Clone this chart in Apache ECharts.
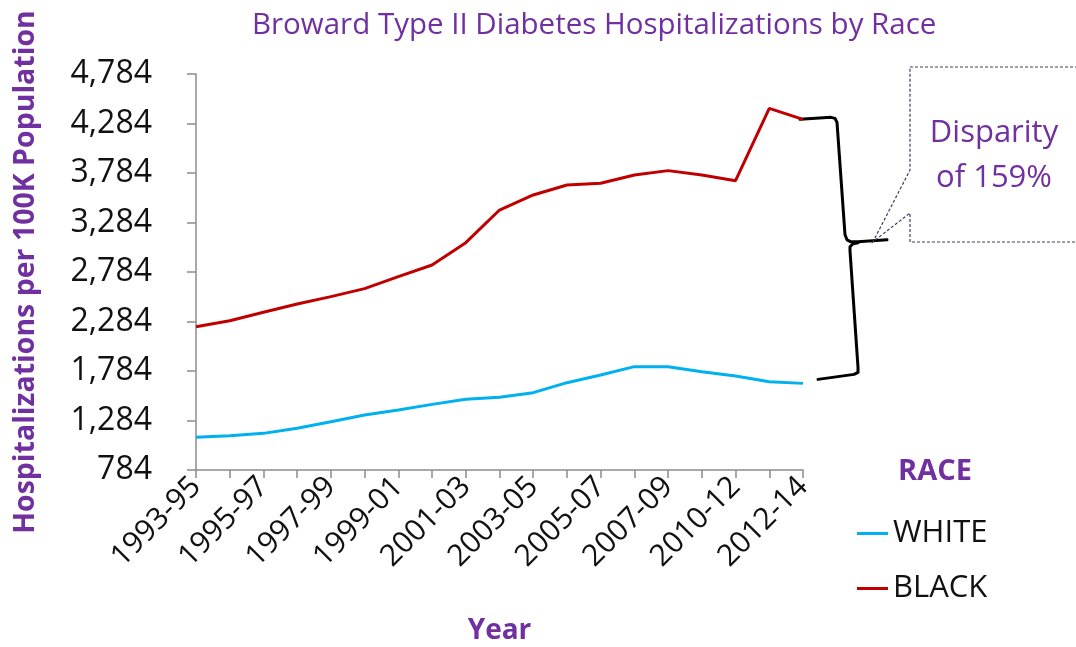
<!DOCTYPE html>
<html><head><meta charset="utf-8">
<script src="https://cdn.jsdelivr.net/npm/echarts@6/dist/echarts.min.js"></script>
<style>html,body{margin:0;padding:0;background:#fff}#c{width:1076px;height:647px}</style>
</head><body><div id="c"></div>
<script>
const categories = ['1993-95','1994-96','1995-97','1996-98','1997-99','1998-00','1999-01','2000-02','2001-03','2002-04','2003-05','2004-06','2005-07','2006-08','2007-09','2008-10','2010-12','2011-13','2012-14'];
const white = [1114,1131,1154,1205,1272,1340,1390,1447,1498,1518,1565,1666,1744,1828,1828,1777,1733,1676,1659];
const black = [2232,2292,2377,2461,2535,2616,2737,2855,3080,3410,3562,3663,3680,3764,3808,3764,3706,4437,4326];
const yTicks = {min: 784, max: 4784, interval: 500};
const purple = '#7030A0';
const FONT = 'Open Sans';

const chart = echarts.init(document.getElementById('c'));
chart.setOption({
  animation: false,
  title: [
    {text: 'Broward Type II Diabetes Hospitalizations by Race', left: 247, top: 6,
     textStyle: {color: purple, fontFamily: FONT, fontWeight: 'normal', fontSize: 29.5}},
    {text: 'RACE', left: 893, top: 452,
     textStyle: {color: purple, fontFamily: FONT, fontWeight: 'bold', fontSize: 29}}
  ],
  grid: {left: 196, right: 273, top: 74, bottom: 177, outerBoundsMode: 'none', containLabel: false},
  legend: {
    orient: 'vertical', left: 852, top: 513, itemWidth: 31, itemHeight: 3, itemGap: 24,
    textStyle: {fontFamily: FONT, fontSize: 31, color: '#111'},
    data: [{name: 'WHITE', icon: 'rect'}, {name: 'BLACK', icon: 'rect'}]
  },
  xAxis: {
    type: 'category', data: categories, boundaryGap: false,
    name: 'Year', nameLocation: 'middle', nameGap: 147,
    nameTextStyle: {color: purple, fontFamily: FONT, fontWeight: 'bold', fontSize: 28},
    axisLine: {lineStyle: {color: '#8c8c8c', width: 1.5}},
    axisTick: {interval: 0, length: 8, lineStyle: {color: '#8c8c8c', width: 1.5}},
    axisLabel: {interval: 1, rotate: 45, margin: 12, color: '#111', fontFamily: FONT, fontSize: 30}
  },
  yAxis: {
    type: 'value', min: yTicks.min, max: yTicks.max, interval: yTicks.interval,
    name: 'Hospitalizations per 100K Population', nameLocation: 'middle', nameGap: 156, nameRotate: 90,
    nameTextStyle: {color: purple, fontFamily: FONT, fontWeight: 'bold', fontSize: 28.5},
    axisLine: {show: true, lineStyle: {color: '#8c8c8c', width: 1.5}},
    axisTick: {show: true, length: 9, lineStyle: {color: '#8c8c8c', width: 1.5}},
    splitLine: {show: false},
    axisLabel: {margin: 44, color: '#111', fontFamily: FONT, fontSize: 32,
      formatter: v => Math.round(v).toLocaleString('en-US')}
  },
  series: [
    {name: 'WHITE', type: 'line', data: white, showSymbol: false, lineStyle: {color: '#00B0F0', width: 3}, itemStyle: {color: '#00B0F0'}},
    {name: 'BLACK', type: 'line', data: black, showSymbol: false, lineStyle: {color: '#C00000', width: 3}, itemStyle: {color: '#C00000'}}
  ]
});

// Brace and callout anchored to the last data points
const n = categories.length - 1;
const pr = chart.convertToPixel({gridIndex: 0}, [n, black[n]]);
const pb = chart.convertToPixel({gridIndex: 0}, [n, white[n]]);
const x0 = pr[0], t = pr[1], b = pb[1];
const m = t + (b - t) * 0.46;
const upper = [[x0-3, t], [x0+28, t-2], [x0+32, t-1], [x0+34, t+3], [x0+42, m-6], [x0+44, m-1], [x0+48, m+1], [x0+55, m+1], [x0+84, m-1]];
const lower = [[x0+55, m+2], [x0+50, m+3], [x0+47, m+6], [x0+47, m+10], [x0+55, b-16], [x0+55, b-11], [x0+51, b-9], [x0+15, b-4]];
const tipX = x0 + 70, tipY = m + 1;
chart.setOption({
  graphic: [
    {type: 'polyline', shape: {points: upper}, style: {fill: null, stroke: '#000', lineWidth: 3, lineJoin: 'round', lineCap: 'round'}},
    {type: 'polyline', shape: {points: lower}, style: {fill: null, stroke: '#000', lineWidth: 3, lineJoin: 'round', lineCap: 'round'}},
    {type: 'polygon', shape: {points: [[910,67],[1080,67],[1080,242],[910,242],[910,213],[tipX,tipY],[910,170]]},
     style: {fill: 'rgba(255,255,255,0)', stroke: '#3c3c60', lineWidth: 1.2, lineDash: [3, 2]}},
    {type: 'text', x: 994, y: 133, style: {text: 'Disparity', fill: purple, font: `31px "${FONT}"`, align: 'center', verticalAlign: 'middle'}},
    {type: 'text', x: 994, y: 178, style: {text: 'of 159%', fill: purple, font: `31px "${FONT}"`, align: 'center', verticalAlign: 'middle'}}
  ]
});
</script></body></html>
